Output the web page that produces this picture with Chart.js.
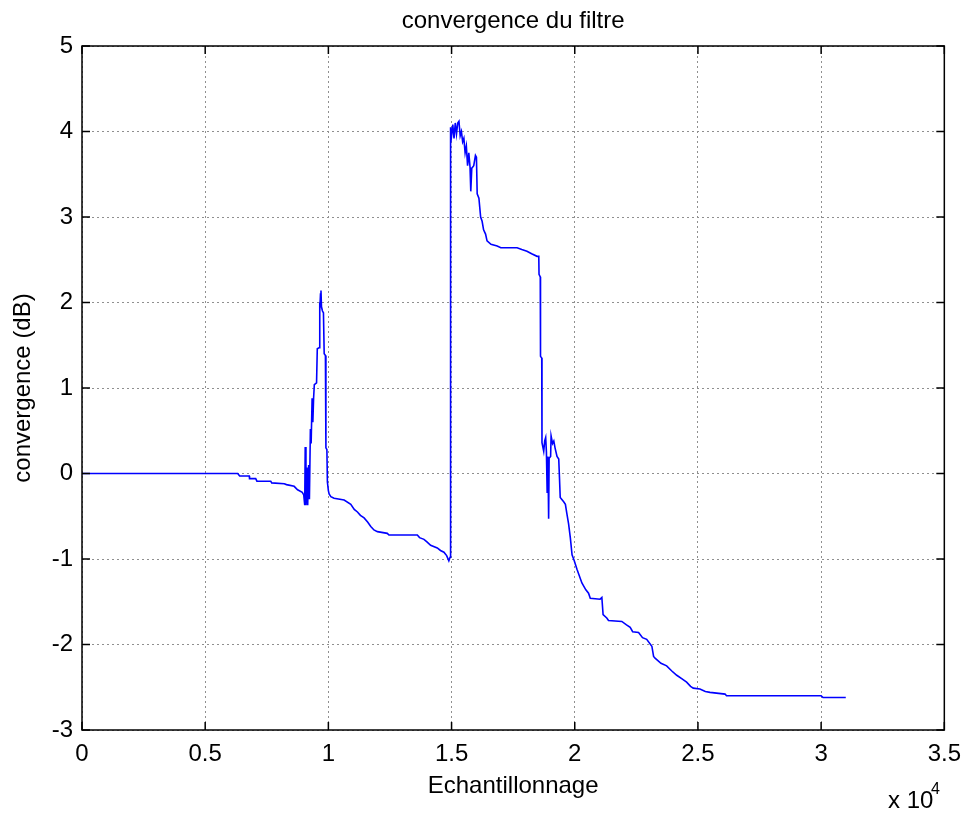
<!DOCTYPE html>
<html>
<head>
<meta charset="utf-8">
<script src="https://cdn.jsdelivr.net/npm/chart.js@4/dist/chart.umd.min.js"></script>
<style>
  html, body { margin: 0; padding: 0; background: #fff; }
  canvas { display: block; }
</style>
</head>
<body>
<canvas id="convChart" width="971" height="814"></canvas>
<script>
// samples, in units of 10^4
const sampleX = [
  0, 0.632, 0.64, 0.679, 0.68, 0.705, 0.71, 0.766, 0.77, 0.821, 0.83, 0.861, 0.875, 0.894, 0.9,
  0.904, 0.906, 0.909, 0.913, 0.916, 0.92, 0.923, 0.927, 0.93, 0.934, 0.937, 0.94, 0.943, 0.952,
  0.955, 0.962, 0.964, 0.966, 0.968, 0.97, 0.972, 0.976, 0.98, 0.983, 0.988, 0.99, 0.994, 0.996,
  1.0, 1.003, 1.01, 1.023, 1.064, 1.091, 1.105, 1.118, 1.13, 1.145, 1.16, 1.172, 1.185, 1.199,
  1.239, 1.246, 1.361, 1.37, 1.388, 1.4, 1.415, 1.442, 1.455, 1.469, 1.48, 1.489, 1.494,
  1.496, 1.5, 1.505, 1.51, 1.515, 1.52, 1.525, 1.53, 1.535, 1.54, 1.545, 1.55, 1.555, 1.56, 1.565,
  1.57, 1.575, 1.578, 1.582, 1.59, 1.597, 1.601, 1.604, 1.611, 1.618, 1.624, 1.63, 1.638, 1.644,
  1.66, 1.685, 1.7, 1.766, 1.785, 1.806, 1.825, 1.847, 1.854, 1.855, 1.86, 1.861, 1.866, 1.867,
  1.874, 1.878, 1.882, 1.885, 1.888, 1.891, 1.894, 1.896, 1.902, 1.904, 1.91, 1.915, 1.92, 1.928,
  1.935, 1.938, 1.941, 1.955, 1.962, 1.968, 1.975, 1.982, 1.989, 1.998, 2.009, 2.029, 2.045,
  2.056, 2.063, 2.103, 2.11, 2.115, 2.13, 2.137, 2.191, 2.21, 2.225, 2.235, 2.259, 2.275, 2.292,
  2.313, 2.32, 2.326, 2.35, 2.373, 2.394, 2.414, 2.434, 2.454, 2.47, 2.481, 2.508, 2.53, 2.549,
  2.61, 2.616, 3.0, 3.008, 3.1
];

// convergence in dB
const convergenceDb = [
  0, 0, -0.03, -0.03, -0.06, -0.06, -0.09, -0.09, -0.11, -0.12, -0.13, -0.15, -0.19, -0.22, -0.25,
  -0.37, 0.31, -0.37, 0.07, -0.37, 0.1, -0.3, 0.52, 0.35, 0.88, 0.6, 0.88, 1.04, 1.06,
  1.46, 1.47, 2.0, 1.9, 2.1, 2.14, 1.95, 1.9, 1.88, 1.4, 1.38, 0.3, 0.28, -0.1,
  -0.2, -0.24, -0.27, -0.29, -0.31, -0.36, -0.42, -0.45, -0.49, -0.52, -0.57, -0.62, -0.66, -0.68,
  -0.7, -0.72, -0.72, -0.75, -0.77, -0.8, -0.84, -0.87, -0.9, -0.92, -0.96, -1.02, -0.98,
  4.05, 3.95, 4.08, 3.92, 4.1, 3.97, 4.1, 4.12, 3.95, 4.0, 3.88, 3.92, 3.75, 3.83, 3.6,
  3.75, 3.58, 3.3, 3.57, 3.6, 3.72, 3.7, 3.27, 3.22, 3.0, 2.95, 2.85, 2.8, 2.72,
  2.68, 2.66, 2.64, 2.64, 2.62, 2.6, 2.57, 2.54, 2.54, 2.33, 2.3, 1.37, 1.35, 0.36,
  0.26, 0.38, 0.42, 0.25, -0.22, 0.2, -0.53, 0.18, 0.2, 0.44, 0.35, 0.38, 0.3, 0.2,
  0.17, -0.05, -0.28, -0.33, -0.36, -0.47, -0.59, -0.75, -0.95, -1.02, -1.12, -1.28, -1.36,
  -1.4, -1.46, -1.47, -1.45, -1.65, -1.69, -1.72, -1.73, -1.77, -1.8, -1.85, -1.86, -1.92, -1.94,
  -2.02, -2.14, -2.16, -2.22, -2.25, -2.31, -2.36, -2.4, -2.44, -2.49, -2.51, -2.52, -2.55, -2.56,
  -2.58, -2.6, -2.6, -2.62, -2.62
];

const xTicks = [0, 0.5, 1, 1.5, 2, 2.5, 3, 3.5];
const yTicks = [-3, -2, -1, 0, 1, 2, 3, 4, 5];

const FONT = 'Arial, "Liberation Sans", Helvetica, sans-serif';

// matlab-like box, inward ticks, title and exponent label
const matlabFrame = {
  id: 'matlabFrame',
  afterDraw(chart) {
    const { ctx, chartArea: a, scales } = chart;
    ctx.save();
    ctx.strokeStyle = '#000';
    ctx.lineWidth = 1.5;
    ctx.beginPath();
    xTicks.forEach(v => {
      const px = scales.x.getPixelForValue(v);
      ctx.moveTo(px, a.bottom); ctx.lineTo(px, a.bottom - 8);
      ctx.moveTo(px, a.top); ctx.lineTo(px, a.top + 8);
    });
    yTicks.forEach(v => {
      const py = scales.y.getPixelForValue(v);
      ctx.moveTo(a.left, py); ctx.lineTo(a.left + 8, py);
      ctx.moveTo(a.right, py); ctx.lineTo(a.right - 8, py);
    });
    ctx.stroke();
    ctx.strokeRect(a.left, a.top, a.right - a.left, a.bottom - a.top);

    ctx.fillStyle = '#000';
    ctx.textAlign = 'center';
    ctx.textBaseline = 'alphabetic';
    ctx.font = '24px ' + FONT;
    ctx.fillText('convergence du filtre', (a.left + a.right) / 2, 28);

    ctx.textAlign = 'left';
    ctx.fillText('x 10', 888, 808);
    ctx.font = '16px ' + FONT;
    ctx.fillText('4', 931, 794);
    ctx.restore();
  }
};

const gridColor = '#8f8f8f';

new Chart(document.getElementById('convChart'), {
  type: 'line',
  data: {
    datasets: [{
      data: sampleX.map((x, i) => ({ x: x, y: convergenceDb[i] })),
      borderColor: '#0000ff',
      borderWidth: 1.6,
      pointRadius: 0,
      tension: 0,
      fill: false
    }]
  },
  options: {
    responsive: false,
    animation: false,
    devicePixelRatio: 1,
    layout: { padding: { top: 46, right: 21, bottom: 0, left: 0 } },
    plugins: {
      legend: { display: false },
      tooltip: { enabled: false },
      title: { display: false }
    },
    scales: {
      x: {
        type: 'linear',
        min: 0,
        max: 3.5,
        afterFit(s) { s.height = 84; },
        afterBuildTicks(s) { s.ticks = xTicks.map(v => ({ value: v })); },
        ticks: {
          padding: 10,
          color: '#000',
          font: { size: 24, family: FONT },
          callback: v => String(v)
        },
        grid: { color: gridColor, lineWidth: 1, drawTicks: false },
        border: { display: false, dash: [2, 3] },
        title: {
          display: true,
          text: 'Echantillonnage',
          color: '#000',
          font: { size: 24, family: FONT },
          padding: { top: 0, bottom: 13 }
        }
      },
      y: {
        type: 'linear',
        min: -3,
        max: 5,
        afterFit(s) { s.width = 82; },
        afterBuildTicks(s) { s.ticks = yTicks.map(v => ({ value: v })); },
        ticks: {
          padding: 9,
          color: '#000',
          font: { size: 24, family: FONT },
          callback: v => String(v)
        },
        grid: { color: gridColor, lineWidth: 1, drawTicks: false },
        border: { display: false, dash: [2, 3] },
        title: {
          display: true,
          text: 'convergence (dB)',
          color: '#000',
          font: { size: 24, family: FONT },
          padding: { top: 9, bottom: 0 }
        }
      }
    }
  },
  plugins: [matlabFrame]
});
</script>
</body>
</html>
